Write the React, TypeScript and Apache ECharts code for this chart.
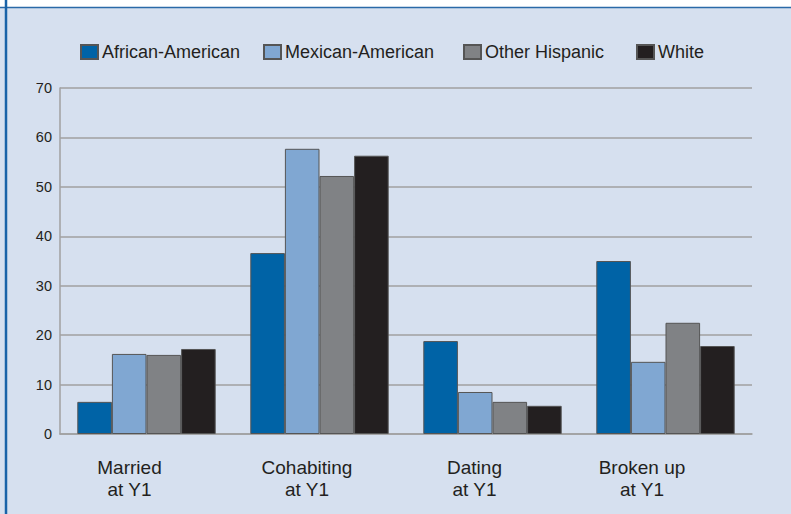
import React, { useEffect, useRef } from "react";
import * as echarts from "echarts";

const categories = ["Married\nat Y1", "Cohabiting\nat Y1", "Dating\nat Y1", "Broken up\nat Y1"];
const seriesNames = ["African-American", "Mexican-American", "Other Hispanic", "White"];
const africanAmerican = [6.5, 36.6, 18.8, 35.0];
const mexicanAmerican = [16.2, 57.7, 8.5, 14.6];
const otherHispanic = [16.0, 52.2, 6.5, 22.5];
const white = [17.2, 56.3, 5.7, 17.8];
const colors = ["#0063a6", "#80a7d2", "#808285", "#231f20"];
const legendLefts = [80, 263, 463, 636];
const labelShiftLeft = [17, 12.5, 18, 23.5];

export default function App() {
  const ref = useRef<HTMLDivElement>(null);
  useEffect(() => {
    document.body.style.margin = "0";
    const chart = echarts.init(ref.current!, null, { renderer: "svg" });
    const values = [africanAmerican, mexicanAmerican, otherHispanic, white];
    const font = "'Liberation Sans', Arial, sans-serif";
    chart.setOption({
      animation: false,
      backgroundColor: "#d6e0ef",
      textStyle: { fontFamily: font },
      graphic: [
        { type: "rect", shape: { x: 0, y: 0, width: 791, height: 7 }, style: { fill: "#ffffff" } },
        { type: "line", shape: { x1: 0, y1: 7.5, x2: 791, y2: 7.5 }, style: { stroke: "#2a6aa8", lineWidth: 1.5 } },
        { type: "line", shape: { x1: 6, y1: 0, x2: 6, y2: 514 }, style: { stroke: "#1a63a8", lineWidth: 2.5 } },
      ],
      legend: seriesNames.map((n, i) => ({
        data: [n],
        left: legendLefts[i],
        top: 43,
        padding: 0,
        icon: "rect",
        itemWidth: 17,
        itemHeight: 14,
        itemGap: 5,
        textStyle: { fontSize: 18, color: "#231f20", fontFamily: font, padding: [0, 0, 0, -1] },
      })),
      grid: { left: 60, right: 39, top: 88, bottom: 80 },
      xAxis: {
        type: "category",
        data: categories.map((c, i) => ({
          value: c,
          textStyle: { padding: [0, labelShiftLeft[i] * 2, 0, 0] },
        })),
        axisLine: { show: true, lineStyle: { color: "#a0a0a0", width: 1.5 } },
        axisTick: { show: false },
        axisLabel: { fontSize: 19, color: "#231f20", lineHeight: 22, margin: 22, fontFamily: font },
      },
      yAxis: {
        type: "value",
        min: 0,
        max: 70,
        interval: 10,
        axisLine: { show: true, lineStyle: { color: "#a0a0a0", width: 1.5 } },
        axisTick: { show: false },
        axisLabel: { fontSize: 14.5, color: "#231f20", margin: 8, fontFamily: font },
        splitLine: { show: true, lineStyle: { color: "#a0a0a0", width: 1.5 } },
      },
      series: seriesNames.map((n, i) => ({
        name: n,
        type: "bar",
        data: values[i],
        barGap: "0%",
        barCategoryGap: "20%",
        itemStyle: { color: colors[i], borderColor: "#555555", borderWidth: 1 },
      })),
    });
    return () => chart.dispose();
  }, []);
  return <div ref={ref} style={{ position: "absolute", left: 0, top: 0, width: 791, height: 514 }} />;
}
